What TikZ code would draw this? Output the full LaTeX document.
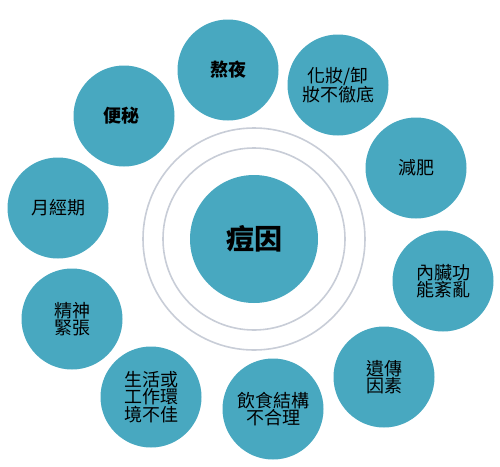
\documentclass[tikz,border=0pt]{standalone}
\usepackage{fontspec}
\newfontfamily\cjk{Noto Sans CJK TC}
\definecolor{causeteal}{RGB}{72,168,192}
\definecolor{ringgray}{RGB}{200,205,215}

\begin{document}
\begin{tikzpicture}[
        x=1pt, y=-1pt,
        hub/.style={circle, fill=causeteal, minimum size=128pt, inner sep=0pt,
            font=\cjk\bfseries\fontsize{28}{30}\selectfont},
        cause/.style={circle, fill=causeteal, minimum size=101pt, inner sep=0pt,
            align=center, font=\cjk\fontsize{18}{17.5}\selectfont},
        ring/.style={draw=ringgray, line width=1.6pt}
    ]
        \useasboundingbox (0,0) rectangle (500,466);
        % centre with its two rings
        \node[hub] (hub) at (254,239) {痘因};
        \draw[ring] (hub.center) circle[radius=91];
        \draw[ring] (hub.center) circle[radius=111];
        % causes around the centre
        \foreach \px/\py/\nm/\txt in {
            228/70/stayup/{\bfseries 熬夜},
            338/85/makeup/{化妝/卸\\妝不徹底},
            416/168/slimming/{減肥},
            443/281/organs/{內臟功\\能紊亂},
            384/377/heredity/{遺傳\\因素},
            273/409/food/{飲食結構\\不合理},
            151/397/setting/{生活或\\工作環\\境不佳},
            72/319/stress/{精神\\緊張},
            58/208/period/{月經期},
            124/116/constipation/{\bfseries 便秘}
        } {
            \node[cause] (\nm) at (\px,\py) {\txt};
        }
    \end{tikzpicture}
\end{document}
